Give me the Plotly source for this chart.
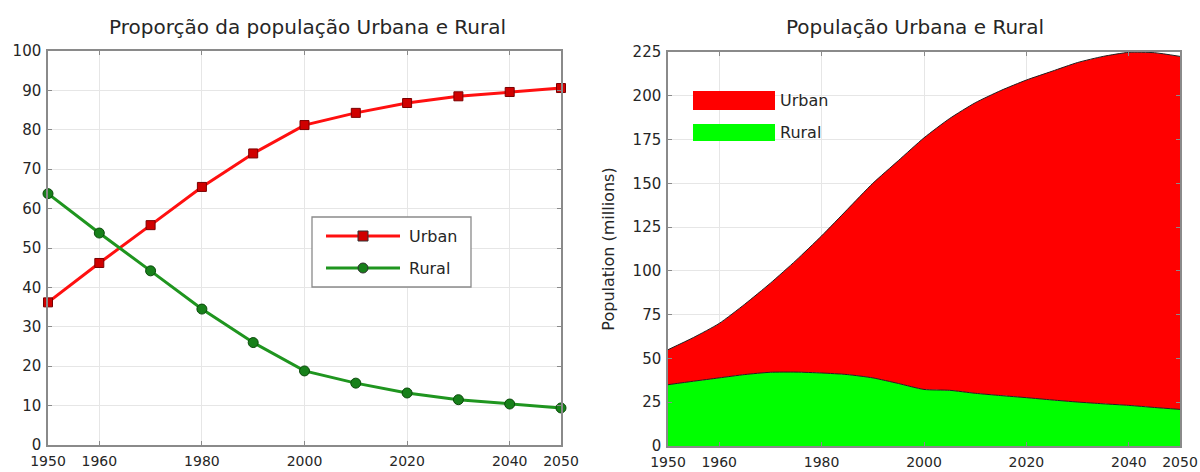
import plotly.graph_objects as go

# ---- data ----
years = [1950, 1960, 1970, 1980, 1990, 2000, 2010, 2020, 2030, 2040, 2050]
urban_pct = [36.2, 46.2, 55.8, 65.5, 74.0, 81.2, 84.3, 86.8, 88.5, 89.6, 90.6]
rural_pct = [63.8, 53.8, 44.2, 34.5, 26.0, 18.8, 15.7, 13.2, 11.5, 10.4, 9.4]

years5 = [1950, 1955, 1960, 1965, 1970, 1975, 1980, 1985, 1990, 1995, 2000,
          2005, 2010, 2015, 2020, 2025, 2030, 2035, 2040, 2045, 2050]
rural_pop = [35.0, 37.0, 38.9, 40.8, 42.1, 42.2, 41.7, 40.8, 38.9, 35.7, 32.3,
             31.8, 30.1, 28.8, 27.6, 26.3, 25.1, 24.1, 23.2, 22.0, 20.9]
urban_pop = [20.0, 25.0, 31.1, 40.2, 50.9, 63.8, 78.3, 94.2, 111.1, 127.3, 143.7,
             155.2, 165.9, 174.2, 181.4, 187.7, 193.9, 198.4, 201.6, 202.6, 201.6]

year_ticks = [1950, 1960, 1980, 2000, 2020, 2040, 2050]
pct_ticks = list(range(0, 101, 10))
pop_ticks = list(range(0, 226, 25))

W, H = 1200, 472
FONT = "DejaVu Sans"
TXT = "#262626"


def px(x):
    return x / W


def py(y):
    return 1 - y / H


fig = go.Figure()

# left: urban / rural share
fig.add_trace(go.Scatter(
    x=years, y=urban_pct, name="Urban", mode="lines+markers",
    line=dict(color="#ff1010", width=3),
    marker=dict(symbol="square", size=9, color="#d00000",
                line=dict(color="#7a0000", width=1)),
    cliponaxis=False, showlegend=False, xaxis="x", yaxis="y"))
fig.add_trace(go.Scatter(
    x=years, y=rural_pct, name="Rural", mode="lines+markers",
    line=dict(color="#1f951f", width=3),
    marker=dict(symbol="circle", size=10, color="#17801a",
                line=dict(color="#0a4a0a", width=1)),
    cliponaxis=False, showlegend=False, xaxis="x", yaxis="y"))

# right: stacked population areas
fig.add_trace(go.Scatter(
    x=years5, y=rural_pop, name="Rural", mode="lines", stackgroup="pop",
    line=dict(color="#202020", width=1, shape="spline", smoothing=0.6),
    fillcolor="#00ff00", showlegend=False, xaxis="x2", yaxis="y2"))
fig.add_trace(go.Scatter(
    x=years5, y=urban_pop, name="Urban", mode="lines", stackgroup="pop",
    line=dict(color="#202020", width=1, shape="spline", smoothing=0.6),
    fillcolor="#ff0000", showlegend=False, xaxis="x2", yaxis="y2"))

axis_common = dict(
    showline=True, mirror="allticks", linecolor="#8a8a8a", linewidth=1.5,
    ticks="inside", ticklen=4, tickcolor="#8a8a8a",
    showgrid=True, gridcolor="#e6e6e6", gridwidth=1, zeroline=False,
    automargin=False,
)
x_font = dict(family=FONT, size=14, color=TXT)
y_font = dict(family=FONT, size=15, color=TXT)

fig.update_layout(
    width=W, height=H,
    margin=dict(l=0, r=0, t=0, b=0),
    paper_bgcolor="white", plot_bgcolor="white",
    showlegend=False,
    xaxis=dict(domain=[px(48), px(561)], range=[1950, 2050],
               tickvals=year_ticks, anchor="y", ticklabelstandoff=2,
               tickfont=x_font, **axis_common),
    yaxis=dict(domain=[py(445), py(51)], range=[0, 100],
               tickvals=pct_ticks, anchor="x", ticklabelstandoff=2,
               tickfont=y_font, **axis_common),
    xaxis2=dict(domain=[px(668), px(1180)], range=[1950, 2050],
                tickvals=year_ticks, anchor="y2", ticklabelstandoff=2,
                tickfont=x_font, **axis_common),
    yaxis2=dict(domain=[py(446), py(52)], range=[0, 225],
                tickvals=pop_ticks, anchor="x2", ticklabelstandoff=2,
                tickfont=y_font,
                title=dict(text="Population (millions)", standoff=14,
                           font=dict(family=FONT, size=16, color=TXT)),
                **axis_common),
)

shapes = []
annotations = []

# titles
annotations.append(dict(text="Proporção da população Urbana e Rural",
                        x=px(307), y=py(27), xref="paper", yref="paper",
                        showarrow=False, xanchor="center", yanchor="middle",
                        font=dict(family=FONT, size=20, color=TXT)))
annotations.append(dict(text="População Urbana e Rural",
                        x=px(915), y=py(27), xref="paper", yref="paper",
                        showarrow=False, xanchor="center", yanchor="middle",
                        font=dict(family=FONT, size=20, color=TXT)))

# left legend
shapes.append(dict(type="rect", xref="paper", yref="paper",
                   x0=px(312), x1=px(471), y0=py(287), y1=py(217),
                   line=dict(color="#8a8a8a", width=1.3), fillcolor="white",
                   layer="above"))
for yy, col, dark, sym, label in [(236, "#ff1010", "#d00000", "rect", "Urban"),
                                  (268, "#1f951f", "#17801a", "circle", "Rural")]:
    shapes.append(dict(type="line", xref="paper", yref="paper",
                       x0=px(326), x1=px(400), y0=py(yy), y1=py(yy),
                       line=dict(color=col, width=3), layer="above"))
    shapes.append(dict(type=sym, xref="paper", yref="paper",
                       x0=px(358), x1=px(368), y0=py(yy + 5), y1=py(yy - 5),
                       line=dict(color="#303030", width=1), fillcolor=dark,
                       layer="above"))
    annotations.append(dict(text=label, x=px(407), y=py(yy), xref="paper",
                            yref="paper", showarrow=False, xanchor="left",
                            yanchor="middle",
                            font=dict(family=FONT, size=16, color=TXT)))

# right legend
for y0, y1, col, label in [(91, 110, "#ff0000", "Urban"),
                           (124, 141, "#00ff00", "Rural")]:
    shapes.append(dict(type="rect", xref="paper", yref="paper",
                       x0=px(693), x1=px(775), y0=py(y1), y1=py(y0),
                       line=dict(width=0), fillcolor=col, layer="above"))
    annotations.append(dict(text=label, x=px(778), y=py((y0 + y1) / 2),
                            xref="paper", yref="paper", showarrow=False,
                            xanchor="left", yanchor="middle",
                            font=dict(family=FONT, size=16, color=TXT)))

fig.update_layout(shapes=shapes, annotations=annotations)

fig.write_html("out.html")
